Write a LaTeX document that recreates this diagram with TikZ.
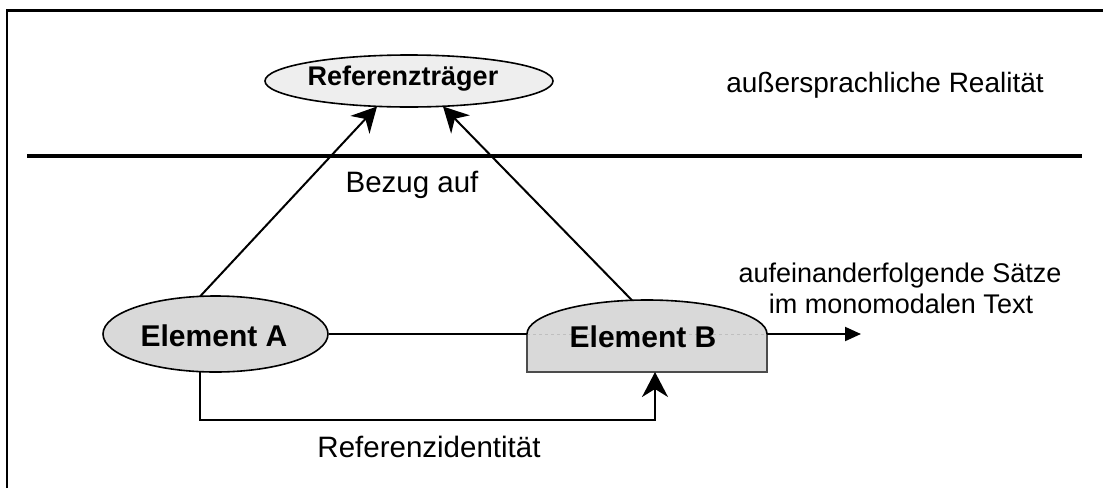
\documentclass[tikz,border=0pt]{standalone}
\usepackage{fontspec}
\setmainfont{Liberation Sans}
\usetikzlibrary{arrows.meta,shapes.geometric}
\begin{document}
\begin{tikzpicture}[x=1pt,y=-1pt,
  lbl/.style={font=\fontsize{27}{31}\selectfont, inner sep=0pt, anchor=base},
  biglbl/.style={font=\fontsize{29.5}{34}\selectfont, inner sep=0pt, anchor=base},
  blbl/.style={font=\fontsize{27}{31}\selectfont\bfseries, inner sep=0pt, anchor=base},
  bigblbl/.style={font=\fontsize{30}{34}\selectfont\bfseries, inner sep=0pt, anchor=base},
  conn/.style={line width=2pt},
  bigtip/.style={-{Stealth[length=25pt,width=26pt,inset=8pt]}},
  oval/.style={ellipse, draw, line width=1.6pt, inner sep=0pt},
]
\useasboundingbox (0,0) rectangle (1103,488);
\fill[white] (0,0) rectangle (1103,488);
% frame and separator
\draw[line width=2.4pt] (7,488) -- (7,10.5) -- (1103,10.5);
\draw[line width=4pt] (27,156) -- (1082,156);

% Referenztraeger
\node[oval, fill=gray!13, minimum width=288pt, minimum height=52pt] (rt) at (409,81) {};
\node[blbl] (rtt) at (403,85) {Referenzträger};

% Element A
\node[oval, fill=gray!30, minimum width=225pt, minimum height=76pt] (ea) at (215.5,334) {};
\node[bigblbl] (eat) at (214,346) {Element A};

% Element B shape
\fill[gray!30] (527,372) -- (527,334) arc[start angle=180,end angle=0,x radius=120pt,y radius=34pt] -- (767,372) -- cycle;
\draw[gray!50, line width=0.8pt, dashed] (527,334) -- (767,334);
\draw[black!70, line width=1.4pt] (527,334) -- (527,372) -- (767,372) -- (767,334);
\draw[line width=1.6pt] (527,334) arc[start angle=180,end angle=0,x radius=120pt,y radius=34pt];
\node[bigblbl] (ebt) at (643,347) {Element B};

% coordinates
\coordinate (eatop) at (200,296.5);
\coordinate (eabot) at (200,372);
\coordinate (rtl) at (377,106.5);
\coordinate (rtr) at (443,106.5);
\coordinate (ebtop) at (632,300.3);
\coordinate (ebl) at (527,334);
\coordinate (ebr) at (767,334);
\coordinate (ebbot) at (655,372);
\coordinate (arrend) at (861,334);

% connectors
\draw[conn, bigtip] (eatop) -- (rtl);
\draw[conn, bigtip] (ebtop) -- (rtr);
\draw[line width=1.5pt] (ea.east) -- (ebl);
\draw[line width=2pt, -{Triangle[length=16pt,width=14pt]}] (ebr) -- (arrend);
\draw[conn, bigtip] (eabot) -- ++(0,48) -| (ebbot);

% labels
\node[lbl, font=\fontsize{28}{32}\selectfont] (real) at (885,92) {außersprachliche Realität};
\node[biglbl] (bez) at (412,192) {Bezug auf};
\node[biglbl] (rid) at (429,457.5) {Referenzidentität};
\node[lbl] (s1) at (900,282) {aufeinanderfolgende Sätze};
\node[lbl] (s2) at (901,313) {im monomodalen Text};
\end{tikzpicture}
\end{document}
